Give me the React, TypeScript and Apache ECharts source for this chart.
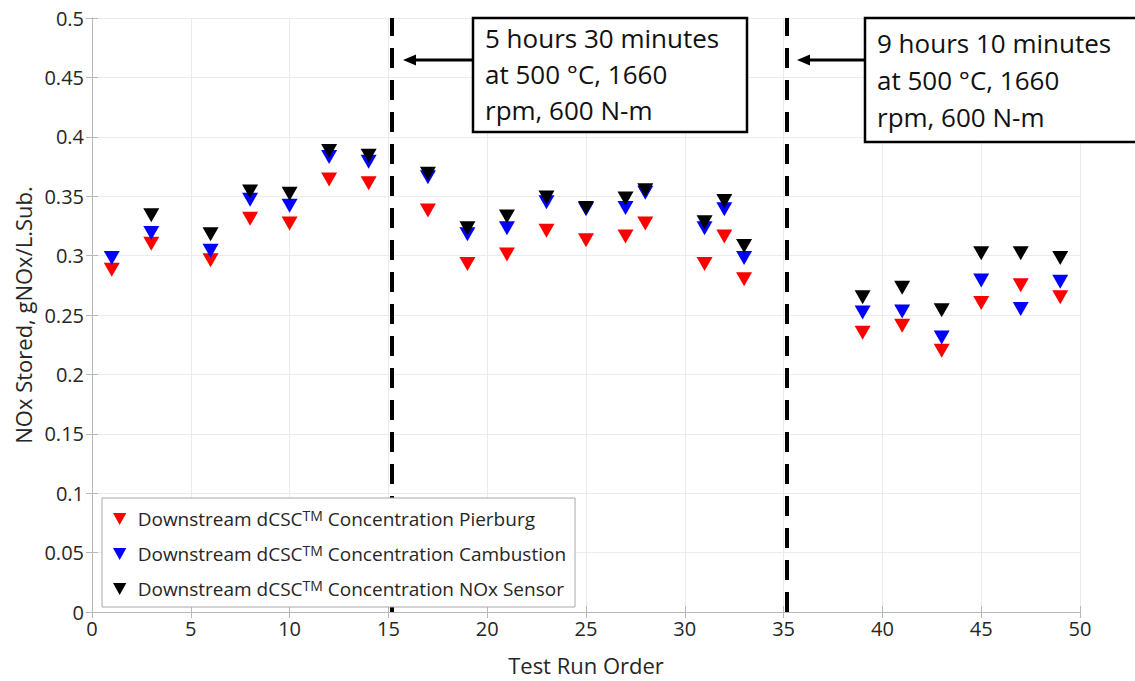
import React, { useEffect, useRef } from "react";
import * as echarts from "echarts";

const runOrder = [1, 3, 6, 8, 10, 12, 14, 17, 19, 21, 23, 25, 27, 28, 31, 32, 33, 39, 41, 43, 45, 47, 49];
const pierburg = [0.288, 0.310, 0.296, 0.331, 0.327, 0.364, 0.361, 0.338, 0.293, 0.301, 0.321, 0.313, 0.316, 0.327, 0.293, 0.316, 0.280, 0.235, 0.241, 0.220, 0.260, 0.275, 0.265];
const cambustion = [0.298, 0.319, 0.304, 0.347, 0.342, 0.383, 0.379, 0.366, 0.318, 0.323, 0.345, 0.339, 0.340, 0.353, 0.323, 0.339, 0.298, 0.252, 0.253, 0.231, 0.279, 0.255, 0.278];
const noxSensor = [null, 0.334, 0.318, 0.354, 0.352, 0.388, 0.384, 0.369, 0.323, 0.333, 0.349, 0.340, 0.348, 0.355, 0.328, 0.346, 0.308, 0.265, 0.273, 0.254, 0.302, 0.302, 0.298];
const seriesNames = [
  "Downstream dCSC Concentration Pierburg",
  "Downstream dCSC Concentration Cambustion",
  "Downstream dCSC Concentration NOx Sensor",
];
const seriesColors = ["#ff0000", "#0000ff", "#000000"];
const dividerRuns = [15.15, 35.15];
const note1 = ["5 hours 30 minutes", "at 500 °C, 1660", "rpm, 600 N-m"];
const note2 = ["9 hours 10 minutes", "at 500 °C, 1660", "rpm, 600 N-m"];

const FONT = "Open Sans";
const TXT = "#262626";
const AXIS = "#b8b8b8";

function pairs(vals: (number | null)[]) {
  const out: number[][] = [];
  vals.forEach((v, i) => {
    if (v !== null) out.push([runOrder[i], v]);
  });
  return out;
}

export default function App() {
  const ref = useRef<HTMLDivElement>(null);
  useEffect(() => {
    if (!ref.current) return;
    const chart = echarts.init(ref.current, null, { renderer: "svg" });
    const valueSets = [pierburg, cambustion, noxSensor];
    const series: any[] = valueSets.map((vals, i) => ({
      name: seriesNames[i],
      type: "scatter",
      data: pairs(vals),
      symbol: "triangle",
      symbolRotate: 180,
      symbolSize: [16, 14],
      itemStyle: { color: seriesColors[i], opacity: 1 },
      z: 3 + i,
    }));
    series[0].markLine = {
      silent: true,
      symbol: "none",
      label: { show: false },
      lineStyle: { color: "#000", width: 4, type: [20, 12], opacity: 1 },
      data: dividerRuns.map((v) => ({ xAxis: v })),
      z: 10,
    };
    const axisCommon = {
      type: "value",
      axisLine: { show: true, lineStyle: { color: AXIS, width: 1 } },
      axisTick: { show: true, inside: true, length: 6, lineStyle: { color: AXIS } },
    };
    const noteBox = (x: number, y: number, w: number, h: number, lines: string[], tx: number, ty: number, lh: number) => ({
      type: "group",
      children: [
        { type: "rect", shape: { x, y, width: w, height: h }, style: { fill: "#fff", stroke: "#000", lineWidth: 2.5 }, z: 20 },
        {
          type: "text",
          x: tx,
          y: ty,
          style: { text: lines.join("\n"), font: `26px "${FONT}"`, fill: "#111", lineHeight: lh },
          z: 21,
        },
      ],
    });
    const arrow = (x1: number, x2: number, y: number) => ({
      type: "group",
      children: [
        { type: "line", shape: { x1, y1: y, x2: x2 + 10, y2: y }, style: { stroke: "#000", lineWidth: 3 }, z: 20 },
        { type: "polygon", shape: { points: [[x2, y], [x2 + 13, y - 5.5], [x2 + 13, y + 5.5]] }, style: { fill: "#000" }, z: 20 },
      ],
    });
    chart.setOption({
      animation: false,
      backgroundColor: "#fff",
      grid: { left: 92, right: 55, top: 18, bottom: 66 },
      xAxis: [
        {
          ...axisCommon,
          min: 0,
          max: 50,
          interval: 5,
          name: "Test Run Order",
          nameLocation: "middle",
          nameGap: 42,
          nameTextStyle: { fontFamily: FONT, fontSize: 22, color: TXT },
          axisLabel: { fontFamily: FONT, fontSize: 20, color: TXT, margin: 6 },
          splitLine: { show: true, lineStyle: { color: "#ebebeb" } },
        },
        {
          ...axisCommon,
          position: "top",
          min: 0,
          max: 50,
          interval: 5,
          axisLabel: { show: false },
          splitLine: { show: false },
        },
      ],
      yAxis: [
        {
          ...axisCommon,
          min: 0,
          max: 0.5,
          interval: 0.05,
          name: "NOx Stored, gNOx/L.Sub.",
          nameLocation: "middle",
          nameGap: 57,
          nameTextStyle: { fontFamily: FONT, fontSize: 22, color: TXT },
          axisLabel: { fontFamily: FONT, fontSize: 20, color: TXT, margin: 8 },
          splitLine: { show: true, lineStyle: { color: "#ebebeb" } },
        },
        {
          ...axisCommon,
          position: "right",
          min: 0,
          max: 0.5,
          interval: 0.05,
          axisLabel: { show: false },
          splitLine: { show: false },
        },
      ],
      legend: {
        orient: "vertical",
        left: 113,
        top: 508,
        padding: 0,
        itemWidth: 26,
        itemHeight: 12,
        itemGap: 13,
        icon: "path://M0,0L10,0L5,9Z",
        itemStyle: { opacity: 1 },
        data: seriesNames,
        formatter: (name: string) => name.replace("dCSC", "dCSC{sup|TM}"),
        textStyle: {
          fontFamily: FONT,
          fontSize: 19,
          color: TXT,
          lineHeight: 22,
          rich: {
            sup: { fontFamily: FONT, fontSize: 14, color: TXT, lineHeight: 13, verticalAlign: "top" },
          },
        },
        z: 30,
      },
      graphic: [
        { type: "rect", shape: { x: 102, y: 498, width: 473, height: 109 }, style: { fill: "#fff", stroke: "#a8a8a8", lineWidth: 1 }, z: 15 },
        noteBox(473, 18, 274, 114, note1, 485, 20, 36),
        arrow(473, 403, 60),
        noteBox(865, 18, 290, 124, note2, 877, 24, 37),
        arrow(865, 797, 60),
      ],
      series,
    });
    return () => chart.dispose();
  }, []);
  return <div ref={ref} style={{ position: "fixed", left: 0, top: 0, width: 1135, height: 681 }} />;
}
